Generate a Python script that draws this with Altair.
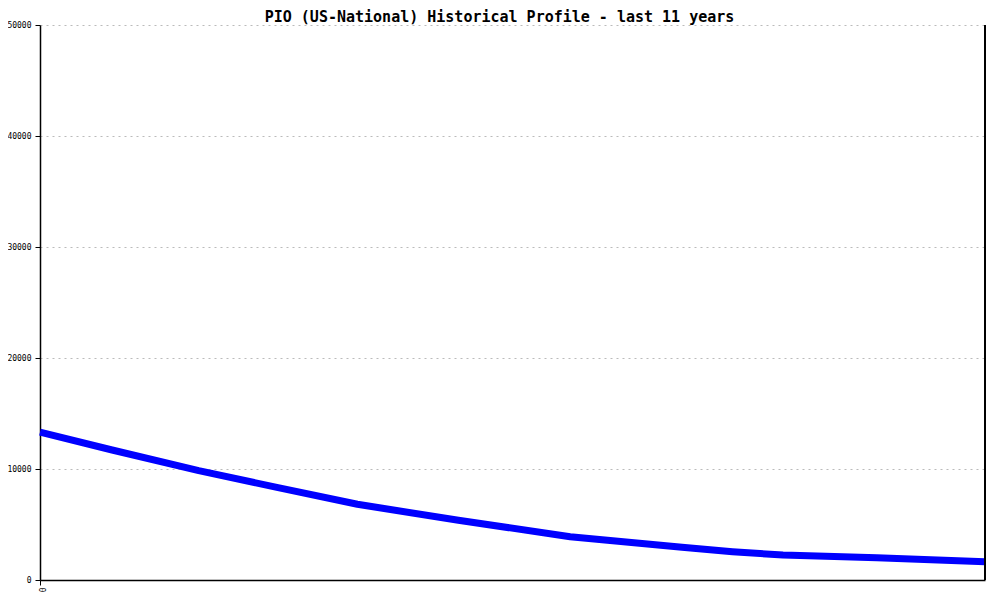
import altair as alt
import pandas as pd

months = [0, 10, 22, 33, 44, 58, 73.5, 89, 96, 103, 116, 131]
values = [13330, 11710, 9850, 8320, 6820, 5380, 3900, 2950, 2550, 2250, 2010, 1650]

df = pd.DataFrame({"month": months, "value": values})

W, H = 945, 555
FONT = "DejaVu Sans Mono"

line = alt.Chart(df).mark_line(color="#0000FF", strokeWidth=7, strokeCap="butt", strokeJoin="round").encode(
    x=alt.X("month:Q", scale=alt.Scale(domain=[0, 131], nice=False, zero=False),
            axis=alt.Axis(values=[0], title=None, grid=False, labelAngle=90, domainColor="black",
                          tickColor="black", labelFont=FONT, labelFontSize=8, tickSize=5,
                          labelColor="black", format="d")),
    y=alt.Y("value:Q", scale=alt.Scale(domain=[0, 50000], nice=False),
            axis=alt.Axis(values=[0, 10000, 20000, 30000, 40000, 50000], title=None, grid=True,
                          gridColor="#bbbbbb", gridDash=[2, 4], domainColor="black", tickColor="black",
                          labelFont=FONT, labelFontSize=8, tickSize=5, labelColor="black",
                          labelPadding=4, format="d")),
)

right_rule = alt.Chart(df).mark_rule(color="black", strokeWidth=1.5).encode(
    x=alt.value(W), y=alt.value(0), y2=alt.value(H)
)

chart = alt.layer(line, right_rule).properties(
    width=W, height=H,
    title=alt.TitleParams("PIO (US-National) Historical Profile - last 11 years",
                          font=FONT, fontSize=15, fontWeight="bold", color="black",
                          anchor="middle", offset=4, dy=8, dx=-13),
    autosize=alt.AutoSizeParams(type="none"),
    padding={"left": 32, "top": 17, "right": 7, "bottom": 12},
).configure_view(stroke=None).configure_axis(domainWidth=1.5)

chart.save("out.html", embed_options={"renderer": "svg", "actions": False})
